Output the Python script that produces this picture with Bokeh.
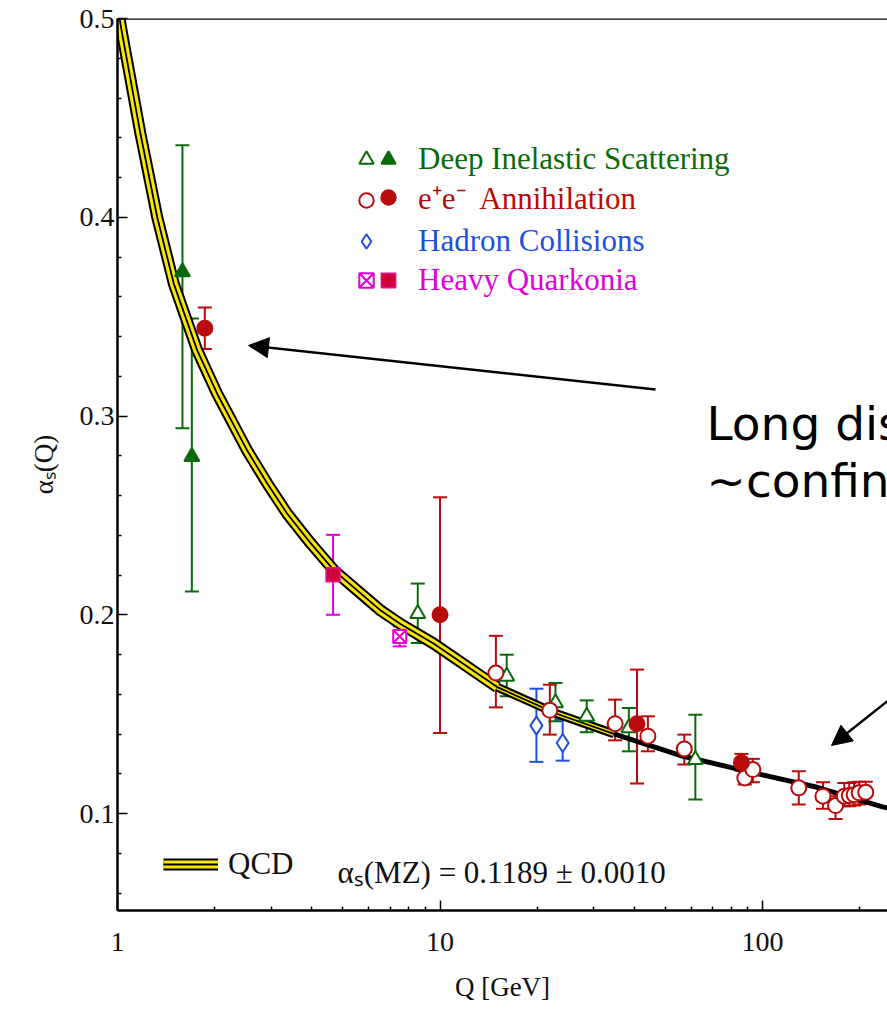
import numpy as np
from bokeh.plotting import figure
from bokeh.models import (ColumnDataSource, Range1d, FixedTicker, PrintfTickFormatter, Whisker, TeeHead,
                          Legend, LegendItem, Label, Arrow, NormalHead, Span)
from bokeh.core.properties import value
from bokeh.embed import file_html
from bokeh.resources import INLINE

# ---------------- data ----------------
# QCD running coupling band (central line)
qcd_q = [1.0, 1.034, 1.178, 1.328, 1.495, 1.767, 2.037, 2.525, 2.91, 3.36, 3.97, 4.69, 6.55, 7.54, 9.57,
         15.04, 23.0, 34.6, 55.5, 91.8, 147.6, 237.0, 250.0]
qcd_alpha = [0.506, 0.4923, 0.4420, 0.4000, 0.3665, 0.3330, 0.3112, 0.2826, 0.2662, 0.2508, 0.2360, 0.2223,
             0.2021, 0.1954, 0.1854, 0.1636, 0.1502, 0.1401, 0.1292, 0.1208, 0.1132, 0.1032, 0.1025]

# Deep Inelastic Scattering
dis_filled_q = [1.59, 1.70]
dis_filled_a = [0.3725, 0.2796]
dis_filled_up = [0.4362, 0.3490]
dis_filled_lo = [0.2938, 0.2117]
dis_open_q = [8.53, 16.1, 22.8, 28.5, 38.5, 61.9]
dis_open_a = [0.2005, 0.1690, 0.1556, 0.1489, 0.1431, 0.1271]
dis_open_up = [0.2157, 0.1799, 0.1657, 0.1569, 0.1531, 0.1497]
dis_open_lo = [0.1858, 0.1590, 0.1464, 0.1409, 0.1313, 0.1070]

# e+e- Annihilation
ee_filled_q = [1.865, 10.0, 40.8, 86.0]
ee_filled_a = [0.3441, 0.2000, 0.1452, 0.1256]
ee_filled_up = [0.3546, 0.2591, 0.1724, 0.1300]
ee_filled_lo = [0.3337, 0.1405, 0.1151, 0.1215]
ee_open_q = [14.9, 21.9, 34.9, 44.1, 57.2, 88.1, 93.3, 129.5, 153.9, 168.4, 179.3, 185.7, 192.3, 199.2, 208.9]
ee_open_a = [0.1707, 0.1519, 0.1452, 0.1389, 0.1325, 0.1179, 0.1221, 0.1129, 0.1087, 0.1040,
             0.1087, 0.1090, 0.1095, 0.1104, 0.1107]
ee_open_up = [0.1894, 0.1648, 0.1573, 0.1489, 0.1397, 0.1213, 0.1275, 0.1213, 0.1157, 0.1087,
              0.1154, 0.1154, 0.1157, 0.1160, 0.1160]
ee_open_lo = [0.1534, 0.1397, 0.1368, 0.1313, 0.1246, 0.1146, 0.1157, 0.1045, 0.1024, 0.0973,
              0.1037, 0.1037, 0.1040, 0.1045, 0.1050]

# Hadron Collisions
had_q = [19.9, 24.0]
had_a = [0.1442, 0.1355]
had_up = [0.1628, 0.1472]
had_lo = [0.1260, 0.1266]

# Heavy Quarkonia
hq_filled_q = [4.66]
hq_filled_a = [0.2201]
hq_filled_up = [0.2402]
hq_filled_lo = [0.2000]
hq_open_q = [7.5]
hq_open_a = [0.1891]
hq_open_up = [0.1941]
hq_open_lo = [0.1841]

x_ticks = [1, 10, 100]
x_minor = [2, 3, 4, 5, 6, 7, 8, 9, 20, 30, 40, 50, 60, 70, 80, 90, 200]
y_ticks = [0.1, 0.2, 0.3, 0.4, 0.5]
y_minor = [0.06, 0.08, 0.12, 0.14, 0.16, 0.18, 0.22, 0.24, 0.26, 0.28,
           0.32, 0.34, 0.36, 0.38, 0.42, 0.44, 0.46, 0.48]

# ---------------- styling ----------------
SERIF = "Liberation Serif"
GREEN = "#0a6a0a"
RED = "#b80b0b"
BLUE = "#1f4fe0"
MAGENTA = "#e000dc"
YELLOW = "#f7e600"
INK = "#111111"

p = figure(width=887, height=1009, x_axis_type="log",
           x_range=Range1d(1, 244), y_range=Range1d(0.0512, 0.5),
           output_backend="svg", toolbar_location=None,
           min_border_left=117, min_border_right=0, min_border_top=18, min_border_bottom=99)
p.outline_line_color = None
p.xgrid.visible = False
p.ygrid.visible = False
p.background_fill_color = "white"
p.border_fill_color = "white"

# axes
xa = p.xaxis[0]
xa.ticker = FixedTicker(ticks=x_ticks, minor_ticks=x_minor)
xa.formatter = PrintfTickFormatter(format="%d")
xa.major_tick_in = 10
xa.major_tick_out = 0
xa.minor_tick_in = 4
xa.minor_tick_out = 0
xa.axis_line_width = 2.5
xa.major_tick_line_width = 1.5
xa.minor_tick_line_width = 1.5
xa.major_label_text_font = SERIF
xa.major_label_text_font_size = "28px"
xa.major_label_text_color = INK
xa.major_label_standoff = 22
xa.axis_label = "Q [GeV]"
xa.axis_label_text_font = SERIF
xa.axis_label_text_font_size = "27px"
xa.axis_label_text_font_style = "normal"
xa.axis_label_text_color = INK
xa.axis_label_standoff = 18

ya = p.yaxis[0]
ya.ticker = FixedTicker(ticks=y_ticks, minor_ticks=y_minor)
ya.formatter = PrintfTickFormatter(format="%.1f")
ya.major_tick_in = 10
ya.major_tick_out = 0
ya.minor_tick_in = 4
ya.minor_tick_out = 0
ya.axis_line_width = 2.5
ya.major_tick_line_width = 1.5
ya.minor_tick_line_width = 1.5
ya.major_label_text_font = SERIF
ya.major_label_text_font_size = "28px"
ya.major_label_text_color = INK
ya.major_label_standoff = 3
ya.axis_label = "αₛ(Q)"
ya.axis_label_text_font = SERIF
ya.axis_label_text_font_size = "27px"
ya.axis_label_text_font_style = "normal"
ya.axis_label_text_color = INK
ya.axis_label_standoff = 18

p.add_layout(Span(location=0.5, dimension="width", line_color="black", line_width=2.5))

# ---------------- QCD band ----------------
qa = np.array(qcd_q)
aa = np.array(qcd_alpha)
segA = qa <= 15.1
segB = (qa >= 15.0) & (qa <= 34.7)
segC = qa >= 34.5
outerA = p.line(qa[segA], aa[segA], line_color="black", line_width=12, line_join="round")
outerB = p.line(qa[segB], aa[segB], line_color="black", line_width=9, line_join="round")
outerC = p.line(qa[segC], aa[segC], line_color="black", line_width=5, line_join="round")
yelA = p.line(qa[segA], aa[segA], line_color=YELLOW, line_width=8, line_join="round")
yelB = p.line(qa[segB], aa[segB], line_color=YELLOW, line_width=4.5, line_join="round")
center = p.line(qa, aa, line_color="black", line_width=1.8, line_join="round")


# ---------------- data points ----------------
def series(q, a, up, lo, marker, color, fill, size, lw=2.0, line_color=None):
    src = ColumnDataSource(dict(q=q, a=a, up=up, lo=lo))
    w = Whisker(source=src, base="q", upper="up", lower="lo", line_color=color, line_width=2,
                upper_head=TeeHead(size=14, line_color=color, line_width=2),
                lower_head=TeeHead(size=14, line_color=color, line_width=2))
    p.add_layout(w)
    return p.scatter("q", "a", source=src, marker=marker, size=size,
                     line_color=line_color or color, fill_color=fill, line_width=lw)


r_dis_f = series(dis_filled_q, dis_filled_a, dis_filled_up, dis_filled_lo, "triangle", GREEN, GREEN, 15)
r_dis_o = series(dis_open_q, dis_open_a, dis_open_up, dis_open_lo, "triangle", GREEN, "white", 15)
r_had = series(had_q, had_a, had_up, had_lo, "diamond", BLUE, "white", 18)
r_hq_o = series(hq_open_q, hq_open_a, hq_open_up, hq_open_lo, "square_x", MAGENTA, "white", 13)
r_hq_f = series(hq_filled_q, hq_filled_a, hq_filled_up, hq_filled_lo, "square", MAGENTA, "#d0003a", 14,
                lw=1.5, line_color="#e0109f")
r_ee_o = series(ee_open_q, ee_open_a, ee_open_up, ee_open_lo, "circle", RED, "white", 15)
r_ee_f = series(ee_filled_q, ee_filled_a, ee_filled_up, ee_filled_lo, "circle", RED, RED, 15)


# ---------------- legends ----------------
def add_legend(label, renderers, loc, color, standoff, gw=36, gh=36):
    lg = Legend(items=[LegendItem(label=value(label), renderers=renderers)], location=loc,
                glyph_width=gw, glyph_height=gh, label_standoff=standoff,
                label_text_font=SERIF, label_text_font_size="31px", label_text_color=color,
                label_height=gh, label_width=0, padding=0, margin=0, spacing=0,
                border_line_color=None, background_fill_alpha=0)
    p.add_layout(lg)


add_legend("", [r_dis_o], (231, 733), GREEN, 0)
add_legend("Deep Inelastic Scattering", [r_dis_f], (253, 733), GREEN, 12)
add_legend("", [r_ee_o], (231, 692), RED, 0)
add_legend("e⁺e⁻  Annihilation", [r_ee_f], (253, 692), RED, 12)
add_legend("Hadron Collisions", [r_had], (231, 651), BLUE, 34)
add_legend("", [r_hq_o], (231, 612), MAGENTA, 0)
add_legend("Heavy Quarkonia", [r_hq_f], (253, 612), MAGENTA, 12)

add_legend("QCD", [outerA, yelA, center], (46, 28), INK, 10, gw=55, gh=20)
p.add_layout(Label(x=220, y=38, x_units="screen", y_units="screen", text="αₛ(MZ) = 0.1189 ± 0.0010",
                   text_font=SERIF, text_font_size="31px", text_color=INK, text_baseline="middle"))

# ---------------- slide annotations ----------------
p.add_layout(Arrow(end=NormalHead(size=20, fill_color="black", line_color="black", line_width=1),
                   x_start=538, y_start=521, x_end=131, y_end=565,
                   start_units="screen", end_units="screen", line_color="black", line_width=2.5))
p.add_layout(Arrow(end=NormalHead(size=20, fill_color="black", line_color="black", line_width=1),
                   x_start=772, y_start=211, x_end=714, y_end=165,
                   start_units="screen", end_units="screen", line_color="black", line_width=2.5))
p.add_layout(Label(x=589, y=487, x_units="screen", y_units="screen", text="Long distance",
                   text_font="DejaVu Sans", text_font_size="47px", text_color="black",
                   text_baseline="alphabetic"))
p.add_layout(Label(x=589, y=430, x_units="screen", y_units="screen", text="~confinement",
                   text_font="DejaVu Sans", text_font_size="47px", text_color="black",
                   text_baseline="alphabetic"))

open("out.html", "w").write(file_html(p, INLINE))
